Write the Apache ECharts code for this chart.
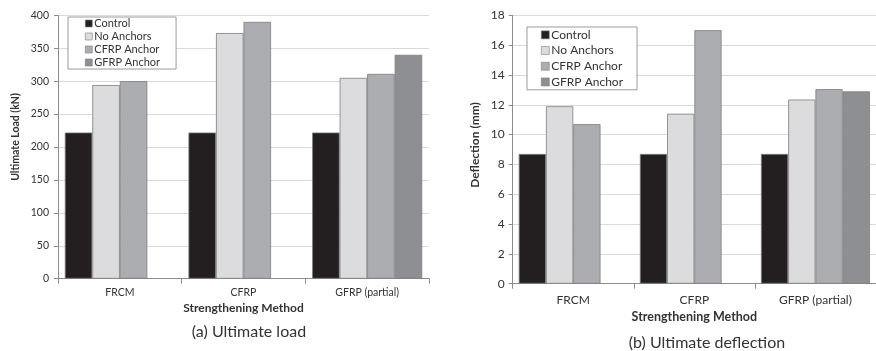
<!DOCTYPE html>
<html>
<head>
<meta charset="utf-8">
<script src="https://cdn.jsdelivr.net/npm/echarts@6/dist/echarts.min.js"></script>
<style>
  html, body { margin: 0; padding: 0; background: #fff; overflow: hidden; }
  #chart { width: 876px; height: 351px; }
</style>
</head>
<body>
<div id="chart"></div>
<script>
// Strengthening methods on the x axis
const methods = ['FRCM', 'CFRP', 'GFRP (partial)'];
const seriesNames = ['Control', 'No Anchors', 'CFRP Anchor', 'GFRP Anchor'];
const seriesColors = ['#231f20', '#dcdcde', '#acadb0', '#8e8f93'];

// (a) Ultimate load, kN
const loadControl   = [222, 222, 222];
const loadNoAnchors = [294, 373, 305];
const loadCFRP      = [300, 390, 311];
const loadGFRP      = [null, null, 340];

// (b) Ultimate deflection, mm
const deflControl   = [8.7, 8.7, 8.7];
const deflNoAnchors = [11.9, 11.4, 12.35];
const deflCFRP      = [10.7, 17.0, 13.05];
const deflGFRP      = [null, null, 12.9];

const loadTicks = { min: 0, max: 400, interval: 50 };
const deflTicks = { min: 0, max: 18, interval: 2 };

const FONT = 'Lato';
const TXT = '#333333';

function xAxis(gridIndex, fontSize, margin, nameGap, nameSize) {
  return {
    type: 'category', gridIndex, data: methods,
    axisLine: { lineStyle: { color: '#8c8c8c', width: 1 } },
    axisTick: { show: true, length: 5, lineStyle: { color: '#8c8c8c' } },
    axisLabel: { color: TXT, fontFamily: FONT, fontSize, margin },
    name: 'Strengthening Method', nameLocation: 'middle', nameGap,
    nameTextStyle: { color: TXT, fontFamily: FONT, fontSize: nameSize, fontWeight: 'bold' }
  };
}

function yAxis(gridIndex, ticks, name, fontSize, margin, nameGap, nameSize, shift) {
  return {
    type: 'value', gridIndex, min: ticks.min, max: ticks.max, interval: ticks.interval,
    axisLine: { show: true, lineStyle: { color: '#8c8c8c', width: 1 } },
    axisTick: { show: true, length: 4, lineStyle: { color: '#8c8c8c' } },
    axisLabel: { color: TXT, fontFamily: FONT, fontSize, margin },
    splitLine: { lineStyle: { color: '#d9d9d9', width: 1 } },
    name, nameLocation: 'middle', nameGap, nameRotate: 90,
    nameTextStyle: { color: TXT, fontFamily: FONT, fontSize: nameSize, fontWeight: 'bold',
                     padding: [0, 0, 0, shift] }
  };
}

function barSeries(name, data, idx, axisIndex, gap) {
  return {
    type: 'bar', name, data,
    xAxisIndex: axisIndex, yAxisIndex: axisIndex,
    barGap: '0%', barCategoryGap: gap,
    itemStyle: { color: seriesColors[idx], borderColor: '#7d7d7f', borderWidth: 0.8 },
    emphasis: { disabled: true },
    animation: false
  };
}

function legend(left, top, fontSize, iconSize, lineH, pad) {
  return {
    orient: 'vertical', left, top,
    data: seriesNames.map(n => ({ name: n })),
    icon: 'rect', itemWidth: iconSize, itemHeight: iconSize, itemGap: 0,
    padding: pad,
    borderColor: '#9a9a9a', borderWidth: 1, backgroundColor: '#fff',
    selectedMode: false,
    textStyle: { color: TXT, fontFamily: FONT, fontSize, lineHeight: lineH, padding: [0, 0, 0, -3] },
    itemStyle: { borderColor: '#7d7d7f', borderWidth: 0.6 }
  };
}

const seriesA = [loadControl, loadNoAnchors, loadCFRP, loadGFRP];
const seriesB = [deflControl, deflNoAnchors, deflCFRP, deflGFRP];

const option = {
  backgroundColor: '#fff',
  animation: false,
  title: [
    { text: '(a) Ultimate load', left: 244, top: 319, textAlign: 'center',
      textStyle: { color: '#333', fontFamily: FONT, fontSize: 16, fontWeight: 'normal' } },
    { text: '(b) Ultimate deflection', left: 702, top: 330, textAlign: 'center',
      textStyle: { color: '#333', fontFamily: FONT, fontSize: 16, fontWeight: 'normal' } }
  ],
  legend: [
    legend(68, 17, 11, 7, 13, [0, 16, 0, 17]),
    legend(527, 27, 12, 8, 15.7, [0, 14, 0, 14])
  ],
  grid: [
    { left: 58, top: 15.3, right: 447, bottom: 72.3 },
    { left: 512.7, top: 15.3, right: -11.7, bottom: 67.3 }
  ],
  xAxis: [
    xAxis(0, 10.5, 8, 22, 12),
    xAxis(1, 12, 10, 27, 12.5)
  ],
  yAxis: [
    yAxis(0, loadTicks, 'Ultimate Load (kN)', 10.5, 9, 37, 10.5, 20),
    yAxis(1, deflTicks, 'Deflection (mm)', 12, 8, 32, 12, 9)
  ],
  series: [
    ...seriesA.map((d, i) => barSeries(seriesNames[i], d, i, 0, '11%')),
    ...seriesB.map((d, i) => barSeries(seriesNames[i], d, i, 1, '10%'))
  ]
};

const chart = echarts.init(document.getElementById('chart'), null, { renderer: 'canvas' });
chart.setOption(option);
</script>
</body>
</html>
